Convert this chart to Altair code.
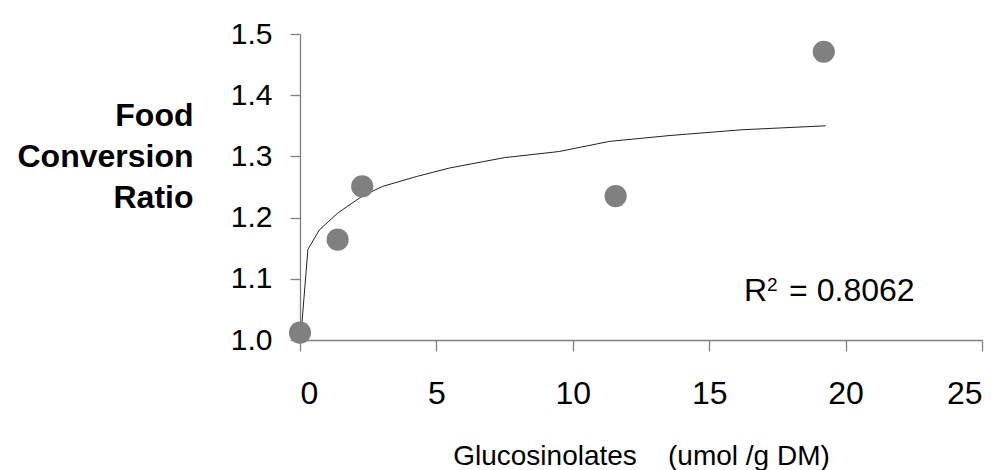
import altair as alt
import pandas as pd

# Observed data points
gluc = [0.0, 1.38, 2.28, 11.57, 19.2]
fcr = [1.012, 1.164, 1.251, 1.235, 1.471]

# Trend line (logarithmic) points
trend_x = [0.03, 0.29, 0.71, 1.4, 2.28, 3.03, 4.26, 5.48, 7.5, 9.5, 11.34, 13.53, 16.2, 19.27]
trend_y = [1.005, 1.148, 1.180, 1.208, 1.235, 1.251, 1.267, 1.281, 1.298, 1.308, 1.3245, 1.334, 1.3435, 1.350]

# Annotation
r2_x = [16.28]
r2_y = [1.063]

x_ticks = [0, 5, 10, 15, 20, 25]
y_ticks = [1.0, 1.1, 1.2, 1.3, 1.4, 1.5]

FONT = "Liberation Sans"
GREY = "#808080"

pts = pd.DataFrame({"x": gluc, "y": fcr})
trend = pd.DataFrame({"x": trend_x, "y": trend_y, "o": list(range(len(trend_x)))})
ann = pd.DataFrame({"x": r2_x, "y": r2_y})

xscale = alt.Scale(domain=[0, 25], nice=False, zero=False)
yscale = alt.Scale(domain=[1.0, 1.5], nice=False, zero=False)

xaxis = alt.Axis(
    values=x_ticks, format="d", grid=False,
    domainColor=GREY, tickColor=GREY, tickSize=11, domainWidth=1.3, tickWidth=1.3,
    labelFont=FONT, labelFontSize=32, labelColor="#000000", labelPadding=27,
    title="Glucosinolates\u00a0\u00a0\u00a0 (umol /g DM)",
    titleFont=FONT, titleFontSize=28, titleFontWeight="normal", titleColor="#000000",
    titleBaseline="alphabetic", titleY=124,
)
yaxis = alt.Axis(
    values=y_ticks, format=".1f", grid=False,
    domainColor=GREY, tickColor=GREY, tickSize=10, domainWidth=1.3, tickWidth=1.3,
    labelFont=FONT, labelFontSize=30, labelColor="#000000", labelPadding=18,
    title=["Food", "Conversion", "Ratio"],
    titleFont=FONT, titleFontSize=32, titleFontWeight="bold", titleColor="#000000",
    titleAngle=0, titleAlign="right", titleBaseline="alphabetic",
    titleX=-107, titleY=91, titleLineHeight=41,
)

line = alt.Chart(trend).mark_line(color="#222222", strokeWidth=1).encode(
    x=alt.X("x:Q", scale=xscale, axis=xaxis),
    y=alt.Y("y:Q", scale=yscale, axis=yaxis),
    order="o:Q",
)

points = alt.Chart(pts).mark_circle(color=GREY, opacity=1, size=490).encode(
    x=alt.X("x:Q", scale=xscale),
    y=alt.Y("y:Q", scale=yscale),
)

t_r = alt.Chart(ann).mark_text(text="R", font=FONT, fontSize=32, align="left",
                               baseline="alphabetic", color="#000000").encode(
    x=alt.X("x:Q", scale=xscale), y=alt.Y("y:Q", scale=yscale))
t_sup = alt.Chart(ann).mark_text(text="2", font=FONT, fontSize=19, align="left",
                                 baseline="alphabetic", dx=23, dy=-10, color="#000000").encode(
    x=alt.X("x:Q", scale=xscale), y=alt.Y("y:Q", scale=yscale))
t_val = alt.Chart(ann).mark_text(text="= 0.8062", font=FONT, fontSize=32, align="left",
                                 baseline="alphabetic", dx=45, color="#000000").encode(
    x=alt.X("x:Q", scale=xscale), y=alt.Y("y:Q", scale=yscale))

chart = alt.layer(line, points, t_r, t_sup, t_val).properties(
    width=682, height=306,
    autosize=alt.AutoSizeParams(type="none"),
    padding={"left": 300, "top": 34, "right": 21, "bottom": 130},
    background="#ffffff",
).configure_view(stroke=None)

chart.save("out.html", embed_options={"renderer": "svg", "actions": False})
